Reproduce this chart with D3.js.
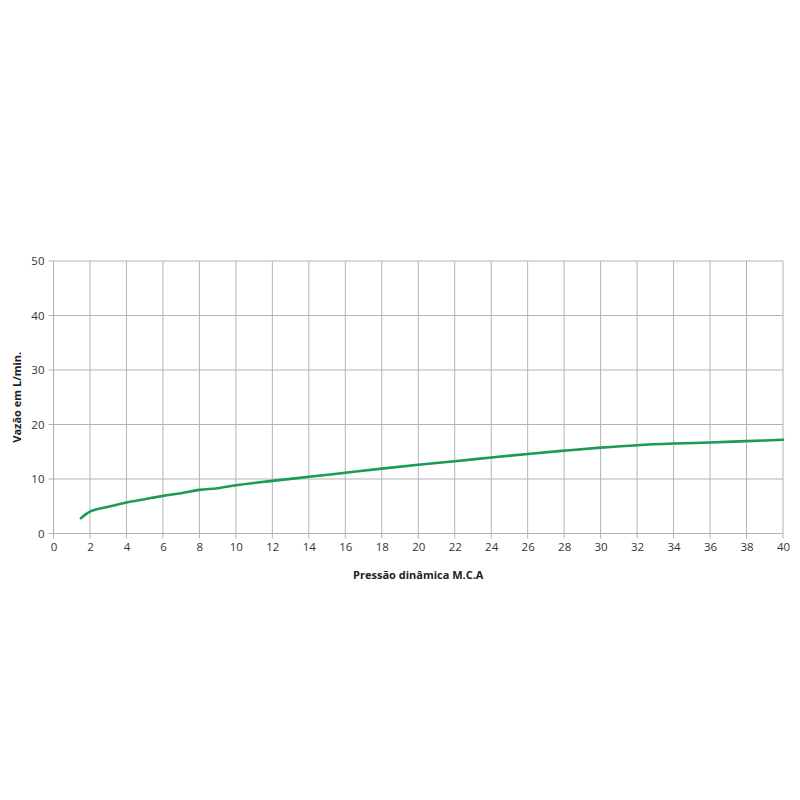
<!DOCTYPE html>
<html>
<head>
<meta charset="utf-8">
<script src="https://cdn.jsdelivr.net/npm/d3@7"></script>
<style>
  body { margin: 0; background: #fff; }
  svg { font-family: "Open Sans", "Noto Sans", sans-serif; }
</style>
</head>
<body>
<script>
// pressure (m.c.a) vs flow (L/min)
const pressure = [1.5, 1.8, 2, 3, 4, 5, 6, 7, 8, 9, 10, 12, 14, 16, 18, 20, 22, 24, 26, 28, 30, 32, 34, 36, 38, 40];
const flow     = [2.8, 3.6, 4.0, 4.9, 5.7, 6.3, 6.9, 7.4, 8.0, 8.3, 8.85, 9.65, 10.4, 11.15, 11.9, 12.6, 13.25, 13.95, 14.6, 15.2, 15.75, 16.2, 16.5, 16.7, 16.95, 17.2];
const xTicks = d3.range(0, 41, 2);
const yTicks = [0, 10, 20, 30, 40, 50];
const xTitle = "Pressão dinâmica M.C.A";
const yTitle = "Vazão em L/min.";

const width = 800, height = 800;
const margin = {left: 53.5, right: 17, top: 261, bottom: 266.5};

const svg = d3.select('body').append('svg')
    .attr('width', width)
    .attr('height', height);

const X = d3.scaleLinear().domain([0, 40]).range([margin.left, width - margin.right]);
const Y = d3.scaleLinear().domain([0, 50]).range([height - margin.bottom, margin.top]);

// grid, with the little tick stubs outside the plot
const grid = svg.append('g').attr('stroke', '#b3b3b3').attr('stroke-width', 1);
grid.selectAll('line.v').data(xTicks).join('line')
    .attr('class', 'v')
    .attr('x1', d => X(d)).attr('x2', d => X(d))
    .attr('y1', Y(50)).attr('y2', Y(0) + 5);
grid.selectAll('line.h').data(yTicks).join('line')
    .attr('class', 'h')
    .attr('x1', X(0) - 5).attr('x2', X(40))
    .attr('y1', d => Y(d)).attr('y2', d => Y(d));

// tick labels from d3 axes, domain paths dropped
const xAxis = svg.append('g')
    .attr('transform', `translate(0,${Y(0)})`)
    .call(d3.axisBottom(X).tickValues(xTicks).tickSize(0).tickPadding(9));
const yAxis = svg.append('g')
    .attr('transform', `translate(${X(0)},0)`)
    .call(d3.axisLeft(Y).tickValues(yTicks).tickSize(0).tickPadding(9));
[xAxis, yAxis].forEach(a => {
    a.select('.domain').remove();
    a.selectAll('text')
        .attr('fill', '#333')
        .style('font-size', '11.5px')
        .style('font-family', '"Open Sans", "Noto Sans", sans-serif');
});

// curve
const line = d3.line()
    .x((d, i) => X(pressure[i]))
    .y(d => Y(d))
    .curve(d3.curveMonotoneX);
svg.append('path')
    .datum(flow)
    .attr('fill', 'none')
    .attr('stroke', '#1c9a56')
    .attr('stroke-width', 2.6)
    .attr('stroke-linejoin', 'round')
    .attr('stroke-linecap', 'round')
    .attr('d', line);

// titles
svg.append('text')
    .attr('x', (X(0) + X(40)) / 2)
    .attr('y', 579)
    .attr('text-anchor', 'middle')
    .style('font-size', '11px')
    .style('font-weight', 'bold')
    .attr('fill', '#222')
    .text(xTitle);
svg.append('text')
    .attr('transform', `translate(21,${(Y(0) + Y(50)) / 2}) rotate(-90)`)
    .attr('text-anchor', 'middle')
    .style('font-size', '11px')
    .style('font-weight', 'bold')
    .attr('fill', '#222')
    .text(yTitle);
</script>
</body>
</html>
